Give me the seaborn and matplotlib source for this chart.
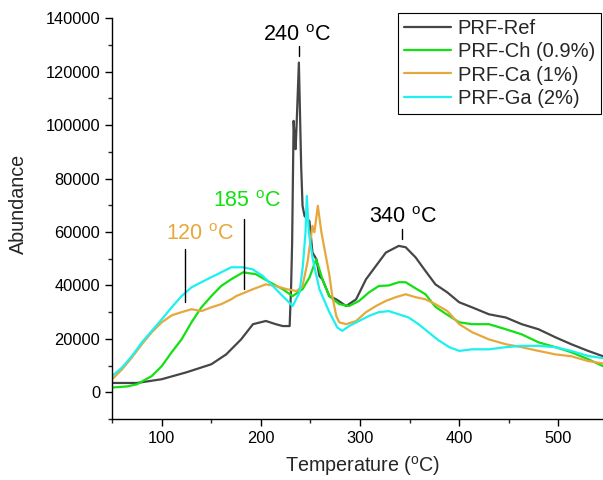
# Import modules
import seaborn as sns
import matplotlib.pyplot as plt
import pandas as pd
from matplotlib.ticker import MultipleLocator

# Data
ref_t = [50, 75, 100, 125, 150, 165, 180, 192, 205, 215, 222, 229, 230.5, 231.5, 233, 234,
         235, 236, 238.3, 240.6, 242, 244, 247, 249, 252, 256, 259, 262, 269, 276, 286, 296,
         306, 316, 326, 339, 346, 356, 366, 376, 388, 400, 413, 430, 447, 463, 480, 497, 513,
         530, 545]
ref_a = [3500, 3500, 4900, 7500, 10500, 14200, 19800, 25500, 26700, 25500, 24800, 24800, 40000,
         56000, 101600, 95000, 91000, 100000, 123400, 84700, 69800, 66000, 64800, 64000, 52300,
         49800, 43500, 42300, 36000, 34800, 32300, 34800, 42300, 47300, 52300, 54800, 54300,
         50500, 45400, 40400, 37400, 33700, 31800, 29200, 28000, 25500, 23600, 20600, 18000,
         15500, 13500]

ch_t = [50, 65, 75, 90, 100, 110, 120, 130, 140, 150, 160, 170, 182, 195, 209, 222, 232, 242,
        249, 252, 255.7, 259, 262, 269, 279, 289, 299, 309, 319, 329, 339, 346, 356, 366, 376,
        386, 400, 413, 430, 447, 463, 480, 497, 513, 530, 545]
ch_a = [1800, 2200, 3000, 6100, 9800, 15000, 19800, 26200, 31800, 36000, 39800, 42300, 44900,
        44200, 41200, 38600, 36000, 38600, 43000, 46000, 49800, 46000, 42300, 36000, 33000, 32300,
        34200, 37400, 39800, 40000, 41200, 41200, 38900, 36700, 32000, 29500, 26200, 25500,
        25500, 23600, 21700, 18700, 16900, 15000, 12400, 9800]

ca_t = [50, 60, 70, 80, 90, 100, 110, 120, 130, 140, 150, 160, 170, 175, 192, 205, 215, 226,
        236, 242, 247, 252, 254, 257.4, 261, 266, 269, 272, 276, 279, 286, 296, 306, 316, 326,
        336, 346, 356, 366, 376, 388, 400, 413, 430, 447, 463, 480, 497, 513, 530, 545]
ca_a = [4900, 8600, 13100, 18000, 22500, 26200, 28800, 30000, 31100, 30400, 31800, 33000, 34800,
        36000, 38600, 40400, 39800, 38600, 37900, 39800, 48700, 62300, 59900, 69800, 59900, 50000,
        44000, 36000, 28600, 26200, 25500, 26700, 30000, 32300, 34200, 35600, 36700, 35600, 34800,
        33000, 30400, 25500, 22500, 19800, 18000, 16900, 15500, 14200, 13500, 11700, 10800]

ga_t = [50, 60, 70, 80, 90, 100, 110, 120, 130, 140, 150, 160, 170, 182, 192, 202, 212, 222,
        232, 239, 242.3, 245, 246.3, 248.3, 252.3, 259, 269, 277, 282, 289, 299, 309, 319, 329,
        339, 349, 359, 369, 379, 390, 400, 413, 430, 447, 463, 480, 497, 513, 530, 545]
ga_a = [6100, 9300, 13600, 18700, 23000, 27300, 31800, 36000, 39300, 41200, 43100, 44900, 46800,
        46800, 46000, 43500, 39800, 36000, 32300, 37400, 47300, 59900, 73500, 59900, 49800, 38600,
        30000, 24300, 23000, 24800, 26700, 28600, 30000, 30400, 29200, 28000, 25500, 22500, 19500,
        16900, 15500, 16100, 16100, 16900, 17400, 17400, 16900, 15500, 13600, 12800]

names = ['PRF-Ref', 'PRF-Ch (0.9%)', 'PRF-Ca (1%)', 'PRF-Ga (2%)']
colours = ['#464646', '#12e012', '#e6a83c', '#1cf0f0']

df = pd.concat([
    pd.DataFrame({'T': ref_t, 'A': ref_a, 'sample': names[0]}),
    pd.DataFrame({'T': ch_t, 'A': ch_a, 'sample': names[1]}),
    pd.DataFrame({'T': ca_t, 'A': ca_a, 'sample': names[2]}),
    pd.DataFrame({'T': ga_t, 'A': ga_a, 'sample': names[3]}),
])

# Settings
sns.set_style('ticks')
plt.rcParams['font.family'] = ['Liberation Sans', 'DejaVu Sans']
plt.rcParams['mathtext.default'] = 'regular'

fig = plt.figure(figsize=(6.03, 4.8), dpi=100)
ax = fig.add_axes([0.186, 0.127, 0.814, 0.835])

sns.lineplot(data=df, x='T', y='A', hue='sample', hue_order=names,
             palette=dict(zip(names, colours)), linewidth=1.6, sort=False,
             estimator=None, ax=ax)

ax.set_xlim(50, 545)
ax.set_ylim(-10000, 140000)
ax.xaxis.set_major_locator(MultipleLocator(100))
ax.xaxis.set_minor_locator(MultipleLocator(50))
ax.yaxis.set_major_locator(MultipleLocator(20000))
ax.yaxis.set_minor_locator(MultipleLocator(10000))
ax.tick_params(which='major', direction='out', length=5, width=1, labelsize=11.8, colors='black')
ax.tick_params(which='minor', direction='out', length=3, width=1)
for s in ['top', 'right']:
    ax.spines[s].set_visible(False)
for s in ['left', 'bottom']:
    ax.spines[s].set_color('black')
    ax.spines[s].set_linewidth(1)

ax.set_xlabel('Temperature ($^{o}$C)', fontsize=14.2)
ax.set_ylabel('Abundance', fontsize=14.2)
ax.yaxis.set_label_coords(-0.172, 0.536)
ax.xaxis.set_label_coords(0.51, -0.088)

# Peak annotations
ax.text(236, 133500, '240 $^{o}$C', fontsize=15.5, ha='center', va='center', color='black')
ax.plot([238.5, 238.5], [126000, 129500], color='black', lw=1)
ax.text(186, 71500, '185 $^{o}$C', fontsize=15.5, ha='center', va='center', color='#12e012')
ax.plot([182.7, 182.7], [38600, 64800], color='black', lw=1)
ax.text(138, 59000, '120 $^{o}$C', fontsize=15.5, ha='center', va='center', color='#e6a83c')
ax.plot([123.4, 123.4], [33700, 53600], color='black', lw=1)
ax.text(343.5, 65500, '340 $^{o}$C', fontsize=15.5, ha='center', va='center', color='black')
ax.plot([342.5, 342.5], [57300, 61000], color='black', lw=1)

leg = ax.legend(loc='upper right', bbox_to_anchor=(0.996, 1.012), borderaxespad=0,
                fontsize=14.5, frameon=True, fancybox=False, framealpha=1,
                edgecolor='black', handlelength=2.3, handletextpad=0.35,
                labelspacing=0.2, borderpad=0.3, title=None)
leg.get_frame().set_linewidth(0.8)

plt.savefig('out.png', dpi=100)
print('Successfully completed')
